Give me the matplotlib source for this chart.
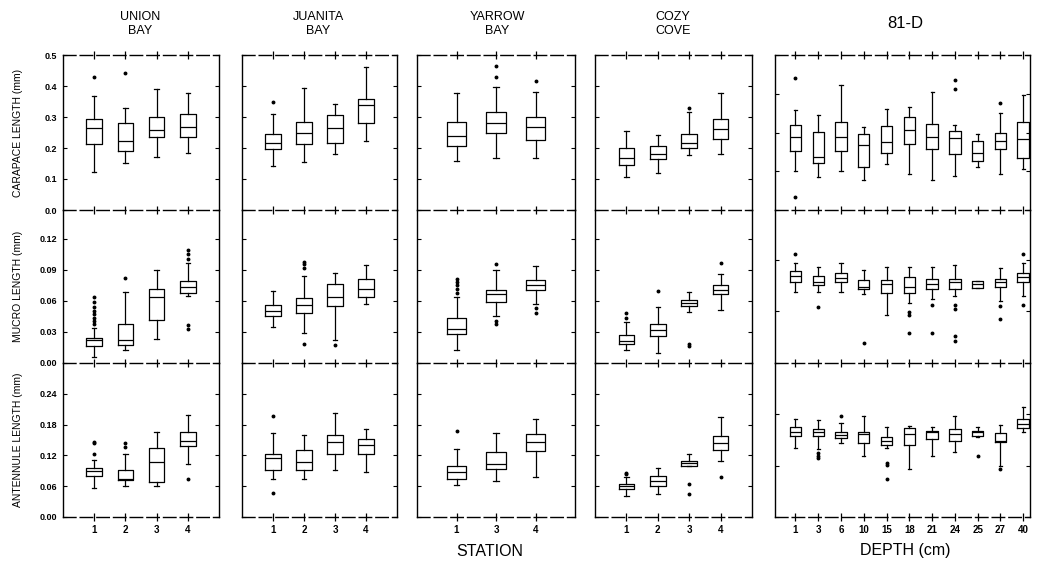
import matplotlib
matplotlib.use("Agg")
import matplotlib.pyplot as plt

plt.rcParams['font.family'] = ['Liberation Sans', 'DejaVu Sans']

# box stats per station: (whisker low, q1, median, q3, whisker high), values in mm
union_car = [(0.124, 0.212, 0.263, 0.294, 0.369), (0.151, 0.191, 0.224, 0.280, 0.328),
             (0.172, 0.237, 0.258, 0.299, 0.390), (0.183, 0.237, 0.268, 0.310, 0.378)]
union_car_fl = [[0.428], [0.441], [], []]
union_muc = [(0.006, 0.016, 0.022, 0.024, 0.034), (0.013, 0.017, 0.022, 0.038, 0.069),
             (0.023, 0.042, 0.064, 0.072, 0.090), (0.065, 0.068, 0.074, 0.079, 0.097)]
union_muc_fl = [[0.038, 0.041, 0.044, 0.047, 0.050, 0.054, 0.059, 0.064], [0.082], [],
                [0.101, 0.105, 0.109, 0.037, 0.033]]
union_ant = [(0.057, 0.080, 0.090, 0.095, 0.111), (0.060, 0.072, 0.074, 0.091, 0.123),
             (0.060, 0.068, 0.108, 0.135, 0.166), (0.103, 0.139, 0.149, 0.166, 0.199)]
union_ant_fl = [[0.123, 0.144, 0.147], [0.136, 0.144], [], [0.075]]

juanita_car = [(0.142, 0.197, 0.215, 0.244, 0.309), (0.156, 0.212, 0.249, 0.283, 0.392),
               (0.180, 0.217, 0.263, 0.306, 0.341), (0.223, 0.282, 0.339, 0.357, 0.462)]
juanita_car_fl = [[0.347], [], [], []]
juanita_muc = [(0.035, 0.045, 0.050, 0.056, 0.070), (0.029, 0.048, 0.056, 0.063, 0.084),
               (0.022, 0.055, 0.064, 0.076, 0.087), (0.057, 0.064, 0.072, 0.081, 0.095)]
juanita_muc_fl = [[], [0.092, 0.096, 0.098, 0.018], [0.017], []]
juanita_ant = [(0.075, 0.092, 0.114, 0.123, 0.163), (0.075, 0.092, 0.108, 0.130, 0.159),
               (0.091, 0.122, 0.146, 0.159, 0.202), (0.088, 0.122, 0.141, 0.152, 0.172)]
juanita_ant_fl = [[0.197, 0.047], [], [], []]

yarrow_car = [(0.159, 0.206, 0.239, 0.283, 0.378), (0.167, 0.247, 0.282, 0.317, 0.398),
              (0.167, 0.226, 0.269, 0.301, 0.382)]
yarrow_car_fl = [[], [0.428, 0.465], [0.417]]
yarrow_muc = [(0.013, 0.028, 0.033, 0.044, 0.064), (0.045, 0.059, 0.067, 0.071, 0.090),
              (0.057, 0.071, 0.075, 0.080, 0.094)]
yarrow_muc_fl = [[0.068, 0.072, 0.075, 0.078, 0.081], [0.096, 0.041, 0.038], [0.053, 0.048]]
yarrow_ant = [(0.062, 0.075, 0.088, 0.099, 0.133), (0.070, 0.093, 0.104, 0.126, 0.163),
              (0.078, 0.128, 0.146, 0.161, 0.191)]
yarrow_ant_fl = [[0.168], [], []]

cozy_car = [(0.106, 0.146, 0.169, 0.200, 0.255), (0.119, 0.163, 0.182, 0.206, 0.241),
            (0.176, 0.200, 0.217, 0.244, 0.315), (0.182, 0.228, 0.262, 0.293, 0.376)]
cozy_car_fl = [[], [], [0.330], []]
cozy_muc = [(0.013, 0.018, 0.021, 0.027, 0.040), (0.010, 0.026, 0.032, 0.038, 0.054),
            (0.049, 0.055, 0.058, 0.061, 0.069), (0.051, 0.067, 0.071, 0.075, 0.086)]
cozy_muc_fl = [[0.044, 0.048], [0.070], [0.016, 0.018], [0.097]]
cozy_ant = [(0.041, 0.054, 0.061, 0.065, 0.078), (0.044, 0.060, 0.070, 0.079, 0.096),
            (0.099, 0.099, 0.105, 0.110, 0.122), (0.110, 0.130, 0.144, 0.157, 0.194)]
cozy_ant_fl = [[0.083, 0.086], [], [0.064, 0.044], [0.078]]

d81_car = [(0.126, 0.190, 0.237, 0.273, 0.323), (0.108, 0.153, 0.172, 0.253, 0.306),
           (0.127, 0.191, 0.237, 0.285, 0.403), (0.097, 0.138, 0.210, 0.245, 0.269),
           (0.148, 0.185, 0.220, 0.272, 0.325), (0.116, 0.213, 0.258, 0.299, 0.333),
           (0.097, 0.196, 0.234, 0.277, 0.382), (0.111, 0.180, 0.231, 0.255, 0.274),
           (0.138, 0.158, 0.185, 0.222, 0.245), (0.116, 0.197, 0.224, 0.249, 0.312),
           (0.131, 0.169, 0.230, 0.285, 0.371)]
d81_car_fl = [[0.425, 0.043], [], [], [], [], [], [], [0.419, 0.389], [], [0.344], []]
d81_muc = [(0.069, 0.078, 0.084, 0.089, 0.097), (0.069, 0.075, 0.078, 0.084, 0.093),
           (0.069, 0.078, 0.082, 0.087, 0.097), (0.067, 0.072, 0.074, 0.080, 0.090),
           (0.046, 0.068, 0.076, 0.080, 0.093), (0.058, 0.068, 0.074, 0.083, 0.093),
           (0.062, 0.072, 0.076, 0.081, 0.093), (0.065, 0.072, 0.078, 0.081, 0.095),
           (0.073, 0.073, 0.076, 0.079, 0.079), (0.060, 0.074, 0.078, 0.081, 0.092),
           (0.065, 0.078, 0.083, 0.087, 0.097)]
d81_muc_fl = [[0.105], [0.054], [], [0.019], [], [0.049, 0.046, 0.029], [0.056, 0.029],
              [0.056, 0.052, 0.026, 0.021], [], [0.055, 0.043], [0.105, 0.056]]
d81_ant = [(0.134, 0.158, 0.165, 0.175, 0.190), (0.132, 0.157, 0.165, 0.171, 0.188),
           (0.144, 0.154, 0.160, 0.165, 0.183), (0.118, 0.144, 0.162, 0.166, 0.196),
           (0.134, 0.141, 0.149, 0.156, 0.176), (0.094, 0.141, 0.162, 0.173, 0.178),
           (0.118, 0.152, 0.166, 0.168, 0.175), (0.126, 0.149, 0.162, 0.171, 0.197),
           (0.155, 0.158, 0.165, 0.168, 0.175), (0.100, 0.147, 0.149, 0.163, 0.179),
           (0.165, 0.173, 0.181, 0.191, 0.214)]
d81_ant_fl = [[], [0.125, 0.119, 0.114], [0.197], [], [0.105, 0.101, 0.074], [], [], [],
              [0.119], [0.094], []]

station_titles = ["UNION\nBAY", "JUANITA\nBAY", "YARROW\nBAY", "COZY\nCOVE", "81-D"]
station_ticks = [["1", "2", "3", "4"], ["1", "2", "3", "4"], ["1", "3", "4"],
                 ["1", "2", "3", "4"],
                 ["1", "3", "6", "10", "15", "18", "21", "24", "25", "27", "40"]]
row_names = ["CARAPACE LENGTH (mm)", "MUCRO LENGTH (mm)", "ANTENNULE LENGTH (mm)"]
row_max = [0.5, 0.148, 0.30]
row_ticks = [[0, 0.1, 0.2, 0.3, 0.4, 0.5],
             [0, 0.03, 0.06, 0.09, 0.12],
             [0, 0.06, 0.12, 0.18, 0.24]]
row_fmt = ["{:.1f}", "{:.2f}", "{:.2f}"]
d81_row_ticks = [[0, 0.125, 0.25, 0.375, 0.5], [0, 0.05, 0.1], [0, 0.1, 0.2]]

boxes = [[union_car, union_muc, union_ant],
         [juanita_car, juanita_muc, juanita_ant],
         [yarrow_car, yarrow_muc, yarrow_ant],
         [cozy_car, cozy_muc, cozy_ant],
         [d81_car, d81_muc, d81_ant]]
fliers = [[union_car_fl, union_muc_fl, union_ant_fl],
          [juanita_car_fl, juanita_muc_fl, juanita_ant_fl],
          [yarrow_car_fl, yarrow_muc_fl, yarrow_ant_fl],
          [cozy_car_fl, cozy_muc_fl, cozy_ant_fl],
          [d81_car_fl, d81_muc_fl, d81_ant_fl]]

W, H = 1037, 564
fig = plt.figure(figsize=(W / 100, H / 100), dpi=100)

# panel edges in pixels
col_px = [(63, 219), (242, 397), (417, 575), (595, 752), (775, 1030)]
row_px = [(55, 210), (210, 363), (363, 517)]
title_x = [140, 318, 497, 673, 905]

for c, (x0, x1) in enumerate(col_px):
    n = len(station_ticks[c])
    pos = list(range(1, n + 1))
    for r, (y0, y1) in enumerate(row_px):
        ax = fig.add_axes([x0 / W, 1 - y1 / H, (x1 - x0) / W, (y1 - y0) / H])
        ax.patch.set_visible(False)
        stats = []
        for (lo, q1, med, q3, hi), fl in zip(boxes[c][r], fliers[c][r]):
            stats.append(dict(whislo=lo, q1=q1, med=med, q3=q3, whishi=hi, fliers=fl))
        lw = 0.9
        ax.bxp(stats, positions=pos, widths=0.5, capwidths=0.14,
               boxprops=dict(color='k', lw=lw), whiskerprops=dict(color='k', lw=lw),
               capprops=dict(color='k', lw=lw), medianprops=dict(color='k', lw=lw),
               flierprops=dict(marker='o', ms=1.8, mfc='k', mec='k', lw=0))
        if c == 2:
            ax.set_xlim(0, 4)
        elif c == 4:
            ax.set_xlim(0.1, 11.3)
        else:
            ax.set_xlim(0, 5)
        ax.set_ylim(0, row_max[r])

        ax.spines['top'].set_visible(r == 0)
        ax.spines['bottom'].set_linestyle((0, (9, 3)))
        ax.spines['top'].set_linestyle((0, (9, 3)))
        for s in ax.spines.values():
            s.set_linewidth(1.0)

        ax.set_xticks(pos)
        if r == 2:
            ax.set_xticklabels(station_ticks[c], fontsize=7, fontweight='bold')
        else:
            ax.set_xticklabels([])
        ax.tick_params(axis='x', direction='inout', length=6, width=0.9, pad=3,
                       top=(r == 0))

        if c == 4:
            ax.set_yticks(d81_row_ticks[r])
        else:
            ax.set_yticks(row_ticks[r])
        if c == 0:
            ax.set_yticklabels([row_fmt[r].format(v) for v in row_ticks[r]],
                               fontsize=6.5, fontweight='bold')
        else:
            ax.set_yticklabels([])
        ax.tick_params(axis='y', direction='in', length=3, width=0.8, right=True, pad=4)

        if c == 0:
            fig.text(18 / W, 1 - (y0 + y1) / 2 / H, row_names[r], rotation=90,
                     ha='center', va='center', fontsize=7.5)

    fs = 12 if c == 4 else 9
    fig.text(title_x[c] / W, 1 - 24 / H, station_titles[c], ha='center', va='center',
             fontsize=fs, linespacing=1.2)

fig.text(490 / W, 1 - 551 / H, "STATION", ha='center', va='center', fontsize=11.5)
fig.text(905 / W, 1 - 551 / H, "DEPTH (cm)", ha='center', va='center', fontsize=11.5)

fig.savefig("out.png", dpi=100)
